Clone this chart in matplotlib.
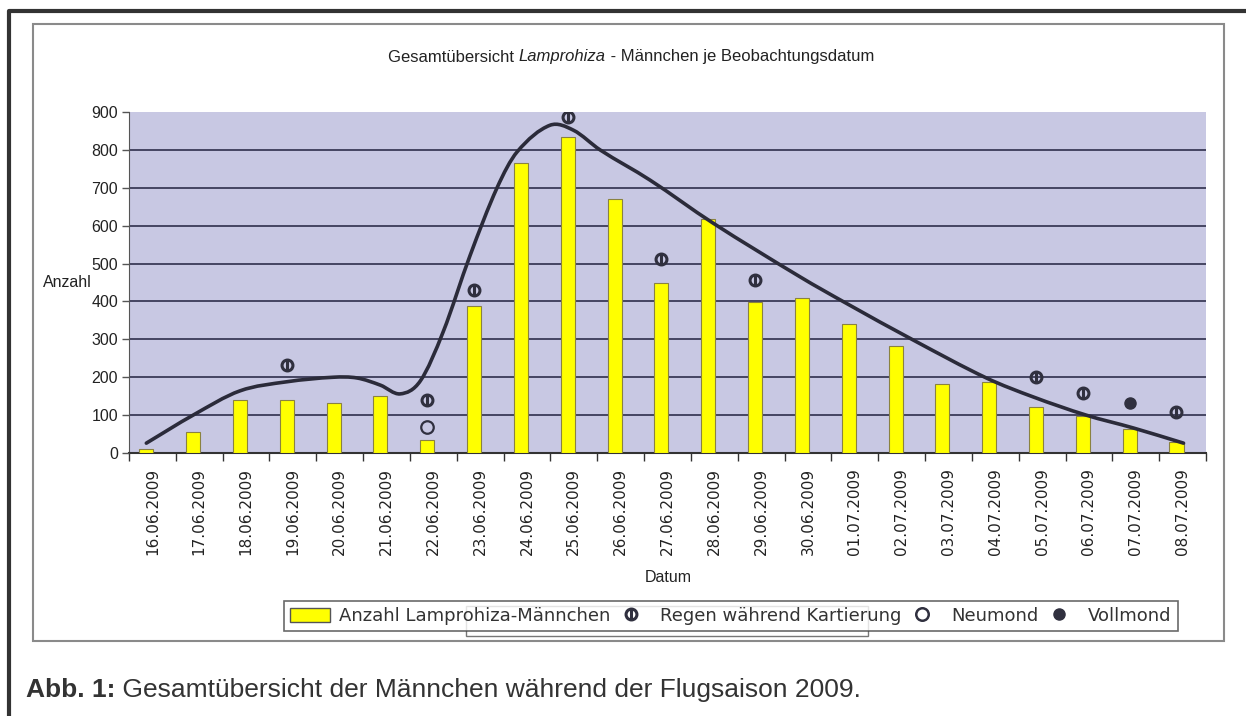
import numpy as np
import matplotlib
matplotlib.use("Agg")
import matplotlib.pyplot as plt
from matplotlib.path import Path
from matplotlib.patches import PathPatch, Rectangle, Patch
from matplotlib.lines import Line2D

# Beobachtungsdaten
dates = ["16.06.2009", "17.06.2009", "18.06.2009", "19.06.2009", "20.06.2009",
         "21.06.2009", "22.06.2009", "23.06.2009", "24.06.2009", "25.06.2009",
         "26.06.2009", "27.06.2009", "28.06.2009", "29.06.2009", "30.06.2009",
         "01.07.2009", "02.07.2009", "03.07.2009", "04.07.2009", "05.07.2009",
         "06.07.2009", "07.07.2009", "08.07.2009"]
males = [11, 56, 139, 141, 133, 151, 34, 387, 766, 835, 670, 450, 617, 399,
         410, 341, 282, 183, 188, 122, 98, 63, 29]

# Symbole (Index des Datums, Hoehe)
rain_idx = [3, 6, 7, 9, 11, 13, 19, 20, 22]
rain_y = [232, 141, 430, 887, 512, 457, 201, 158, 108]
newmoon_idx = [6]
newmoon_y = [68]
fullmoon_idx = [21]
fullmoon_y = [132]

# handgezeichnete Trendkurve (Stuetzpunkte)
trend_x = [0, 1, 2, 3, 4, 4.5, 5, 5.42, 5.85, 6.34, 6.91, 7.49, 7.92,
           8.62, 9.12, 9.69, 10.76, 12.1, 13.96, 14.95, 16.38, 17.94, 18.94,
           20.07, 21.08, 22.15]
trend_y = [26, 100, 164, 188, 200, 198, 179, 156, 190, 320, 520, 700, 795,
           865, 852, 800, 720, 607, 465, 395, 298, 198, 148, 100, 66, 26]

shift = -0.13  # Balken sitzen links der Kategoriemitte
sans = "Liberation Sans"
dark = "#2b2b3a"

fig = plt.figure(figsize=(12.46, 7.16), dpi=100)
W, H = 1246, 716
ax = fig.add_axes([129 / W, 1 - 453 / H, 1077 / W, 341 / H])
ax.set_facecolor("#c8c8e3")

x = np.arange(len(dates))
ax.bar(x + shift, males, width=0.3, color="#ffff00", edgecolor="#8a8240",
       linewidth=0.8, zorder=3)

for v in range(100, 900, 100):
    ax.axhline(v, color="#3b3b58", lw=1.3, zorder=1)

# glatte Kurve durch die Stuetzpunkte (Hermite -> Bezier)
px = np.array(trend_x) + shift
py = np.array(trend_y, dtype=float)
n = len(px)
m = np.zeros(n)
m[0] = (py[1] - py[0]) / (px[1] - px[0])
m[-1] = (py[-1] - py[-2]) / (px[-1] - px[-2])
for k in range(1, n - 1):
    m[k] = (py[k + 1] - py[k - 1]) / (px[k + 1] - px[k - 1])
verts = [(px[0], py[0])]
codes = [Path.MOVETO]
for k in range(n - 1):
    h = px[k + 1] - px[k]
    verts += [(px[k] + h / 3, py[k] + m[k] * h / 3),
              (px[k + 1] - h / 3, py[k + 1] - m[k + 1] * h / 3),
              (px[k + 1], py[k + 1])]
    codes += [Path.CURVE4] * 3
ax.add_patch(PathPatch(Path(verts, codes), facecolor="none", edgecolor=dark,
                       lw=2.6, zorder=4, capstyle="round"))

rain_marker = Path.make_compound_path(
    Path.unit_circle(), Path([[0, -1.15], [0, 1.15]], [Path.MOVETO, Path.LINETO]))
ax.plot(np.array(rain_idx) + shift, rain_y, ls="none", marker=rain_marker,
        ms=9, mfc="none", mec="#30303f", mew=2.2, zorder=5)
ax.plot(np.array(newmoon_idx) + shift, newmoon_y, ls="none", marker="o",
        ms=9, mfc="none", mec="#30303f", mew=1.6, zorder=5)
ax.plot(np.array(fullmoon_idx) + shift, fullmoon_y, ls="none", marker="o",
        ms=8, mfc="#30303f", mec="#30303f", zorder=5)

ax.set_xlim(-0.5, len(dates) - 0.5)
ax.set_ylim(0, 900)
ax.set_yticks(range(0, 1000, 100))
ax.set_yticklabels([str(v) for v in range(0, 1000, 100)], family=sans,
                   fontsize=11.5, color="#222222")
ax.set_xticks(x)
ax.set_xticklabels(dates, rotation=90, fontsize=11, color="#222222",
                   family="DejaVu Sans")
ax.set_xticks(np.arange(-0.5, len(dates)), minor=True)
ax.tick_params(axis="x", which="major", length=0, pad=11)
ax.tick_params(axis="x", which="minor", length=6, direction="out",
               color="#333333", width=1)
ax.tick_params(axis="y", length=5, color="#555555", width=1, pad=3)
for s in ["top", "right"]:
    ax.spines[s].set_visible(False)
ax.spines["left"].set_color("#555555")
ax.spines["bottom"].set_color("#333333")
ax.spines["bottom"].set_linewidth(1.5)
ax.set_axisbelow(False)

fig.text(67 / W, 1 - 283 / H, "Anzahl", family=sans, fontsize=11.5,
         ha="center", va="center", color="#222222")
fig.text(668 / W, 1 - 578 / H, "Datum", family=sans, fontsize=11.5,
         ha="center", va="center", color="#222222")

# Titel mit kursivem Gattungsnamen
t1 = fig.text(388 / W, 1 - 57 / H, "Gesamtübersicht ", family=sans,
              fontsize=12, ha="left", va="center", color="#222222")
t2 = fig.text(0, 0, "Lamprohiza", family=sans, fontsize=12,
              style="italic", color="#222222")
t3 = fig.text(0, 0, " - Männchen je Beobachtungsdatum", family=sans,
              fontsize=12, color="#222222")
fig.canvas.draw()
r = fig.canvas.get_renderer()
b1 = t1.get_window_extent(r)
t2.set_position((b1.x1 / W, b1.y0 / H))
t2.set_va("bottom")
b2 = t2.get_window_extent(r)
t3.set_position((b2.x1 / W, b1.y0 / H))
t3.set_va("bottom")

# Rahmen
fig.add_artist(Rectangle((33 / W, 1 - 641 / H), (1224 - 33) / W, (641 - 24) / H,
                         transform=fig.transFigure, fill=False,
                         edgecolor="#8a8a8a", lw=1.5))
fig.add_artist(Line2D([9 / W, 9 / W, 1.0], [0, 1 - 11 / H, 1 - 11 / H],
                      transform=fig.transFigure, color="#333333", lw=3))
fig.add_artist(Rectangle((466 / W, 1 - 636 / H), (868 - 466) / W, 30 / H,
                         transform=fig.transFigure, fill=False,
                         edgecolor="#777777", lw=1))

handles = [
    Patch(facecolor="#ffff00", edgecolor="#555555", lw=1),
    Line2D([], [], ls="none", marker=rain_marker, ms=9, mfc="none",
           mec="#30303f", mew=2.2),
    Line2D([], [], ls="none", marker="o", ms=9, mfc="none", mec="#30303f",
           mew=1.8),
    Line2D([], [], ls="none", marker="o", ms=8, mfc="#30303f", mec="#30303f"),
]
labels = ["Anzahl Lamprohiza-Männchen", "Regen während Kartierung",
          "Neumond", "Vollmond"]
leg = fig.legend(handles, labels, ncol=4, loc="center",
                 bbox_to_anchor=(731 / W, 1 - 616 / H),
                 prop={"family": "DejaVu Sans", "size": 13},
                 frameon=True, fancybox=False, edgecolor="#444444",
                 handlelength=2.2, handleheight=0.8, handletextpad=0.5,
                 columnspacing=0.05, borderpad=0.35, borderaxespad=0)
leg.get_frame().set_linewidth(1.2)
for t in leg.get_texts():
    t.set_color("#333333")

# Bildunterschrift
c1 = fig.text(26 / W, 1 - 697 / H, "Abb. 1:", fontsize=19,
              family=sans, weight="bold", color="#333333",
              va="baseline")
fig.canvas.draw()
bc = c1.get_window_extent(fig.canvas.get_renderer())
fig.text(bc.x1 / W, 1 - 697 / H, " Gesamtübersicht der Männchen während der Flugsaison 2009.",
         fontsize=19, family=sans, color="#333333", va="baseline")

fig.savefig("out.png", dpi=100)
